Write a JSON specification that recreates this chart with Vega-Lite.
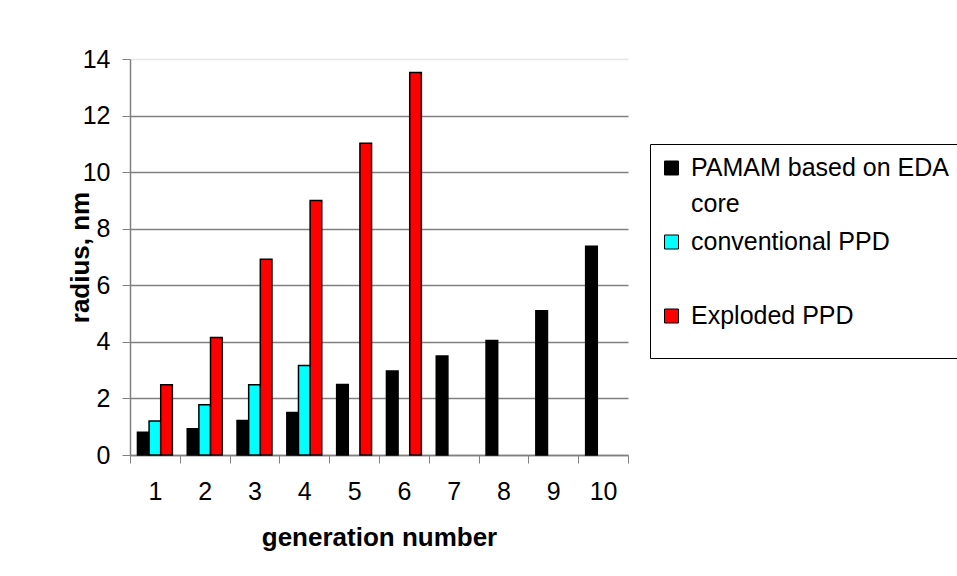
{
  "$schema": "https://vega.github.io/schema/vega-lite/v6.json",
  "width": 498,
  "height": 396,
  "autosize": {"type": "none"},
  "padding": {"left": 130, "top": 59, "right": 329, "bottom": 121},
  "background": "white",
  "data": {
    "values": [
      {"generation": 1, "series": "PAMAM based on EDA core", "radius": 0.8},
      {"generation": 1, "series": "conventional PPD", "radius": 1.2},
      {"generation": 1, "series": "Exploded PPD", "radius": 2.48},
      {"generation": 2, "series": "PAMAM based on EDA core", "radius": 0.93},
      {"generation": 2, "series": "conventional PPD", "radius": 1.78},
      {"generation": 2, "series": "Exploded PPD", "radius": 4.15},
      {"generation": 3, "series": "PAMAM based on EDA core", "radius": 1.22},
      {"generation": 3, "series": "conventional PPD", "radius": 2.48},
      {"generation": 3, "series": "Exploded PPD", "radius": 6.92},
      {"generation": 4, "series": "PAMAM based on EDA core", "radius": 1.5},
      {"generation": 4, "series": "conventional PPD", "radius": 3.16},
      {"generation": 4, "series": "Exploded PPD", "radius": 9.0},
      {"generation": 5, "series": "PAMAM based on EDA core", "radius": 2.49},
      {"generation": 5, "series": "Exploded PPD", "radius": 11.02},
      {"generation": 6, "series": "PAMAM based on EDA core", "radius": 2.97},
      {"generation": 6, "series": "Exploded PPD", "radius": 13.52},
      {"generation": 7, "series": "PAMAM based on EDA core", "radius": 3.5},
      {"generation": 8, "series": "PAMAM based on EDA core", "radius": 4.05},
      {"generation": 9, "series": "PAMAM based on EDA core", "radius": 5.1},
      {"generation": 10, "series": "PAMAM based on EDA core", "radius": 7.38}
    ]
  },
  "mark": {"type": "bar", "stroke": "#000000", "strokeWidth": 1.5},
  "encoding": {
    "x": {
      "field": "generation",
      "type": "ordinal",
      "scale": {"paddingInner": 0, "paddingOuter": 0},
      "axis": {
        "title": "generation number",
        "labelAngle": 0,
        "tickBand": "extent",
        "tickSize": 8,
        "tickColor": "#808080",
        "domainColor": "#808080",
        "domainWidth": 1.5,
        "labelPadding": 16,
        "labelFontSize": 25,
        "labelFont": "Liberation Sans",
        "labelColor": "#000000",
        "titleFont": "Liberation Sans",
        "titleFontSize": 26,
        "titleFontWeight": "bold",
        "titleColor": "#000000",
        "titleBaseline": "alphabetic",
        "titleY": 90
      }
    },
    "xOffset": {
      "field": "series",
      "type": "nominal",
      "scale": {"domain": ["PAMAM based on EDA core", "conventional PPD", "Exploded PPD"], "paddingInner": 0, "paddingOuter": 0.64}
    },
    "y": {
      "field": "radius",
      "type": "quantitative",
      "scale": {"domain": [0, 14], "nice": false},
      "axis": {
        "title": "radius, nm",
        "values": [0, 2, 4, 6, 8, 10, 12, 14],
        "grid": true,
        "gridColor": {"condition": {"test": "datum.value === 14", "value": "#e6e6e6"}, "value": "#808080"},
        "gridWidth": 1.5,
        "tickSize": 8,
        "tickColor": "#808080",
        "domainColor": "#808080",
        "domainWidth": 1.5,
        "labelPadding": 12,
        "labelFontSize": 25,
        "labelFont": "Liberation Sans",
        "labelColor": "#000000",
        "titleFont": "Liberation Sans",
        "titleFontSize": 26,
        "titleFontWeight": "bold",
        "titleColor": "#000000",
        "titleAngle": -90,
        "titleBaseline": "alphabetic",
        "titleAlign": "center",
        "titleX": -42,
        "titleY": 198
      }
    },
    "color": {
      "field": "series",
      "type": "nominal",
      "scale": {"domain": ["PAMAM based on EDA core", "conventional PPD", "Exploded PPD"], "range": ["#000000", "#00FFFF", "#FF0000"]},
      "legend": {
        "title": " ",
        "titleOrient": "bottom",
        "titleFontSize": 10,
        "titlePadding": 8,
        "orient": "none",
        "legendX": 520,
        "legendY": 85,
        "strokeColor": "#000000",
        "padding": 9,
        "symbolType": "square",
        "symbolSize": 196,
        "symbolStrokeColor": "#000000",
        "symbolStrokeWidth": 1,
        "symbolOpacity": 1,
        "labelFontSize": 25,
        "labelFont": "Liberation Sans",
        "labelColor": "#000000",
        "labelOffset": 7,
        "labelLimit": 400,
        "clipHeight": 30,
        "rowPadding": 10,
        "labelExpr": "datum.label === 'PAMAM based on EDA core' ? ['PAMAM based on EDA', 'core'] : datum.label === 'conventional PPD' ? ['conventional PPD', ''] : datum.label"
      }
    }
  },
  "config": {
    "view": {"stroke": null},
    "font": "Liberation Sans",
    "style": {"guide-label": {"lineHeight": 36}}
  }
}
